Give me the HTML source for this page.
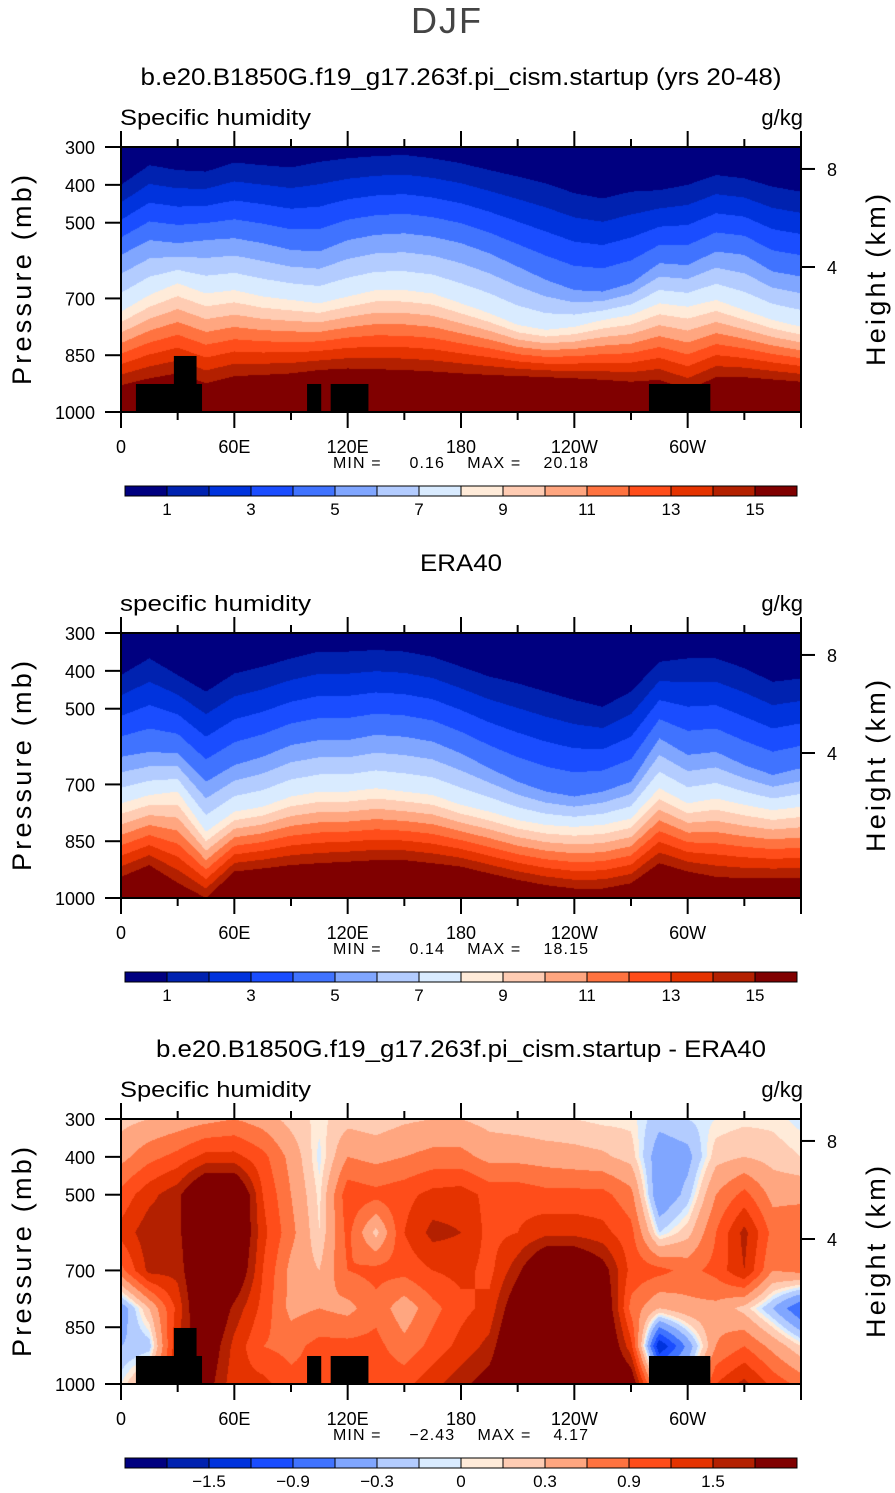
<!DOCTYPE html>
<html><head><meta charset="utf-8">
<style>
html,body{margin:0;padding:0;background:#fff;}
#root{position:relative;width:895px;height:1493px;overflow:hidden;font-family:"Liberation Sans",sans-serif;}
canvas{position:absolute;}
svg{position:absolute;left:0;top:0;}
.pre{white-space:pre;}
</style></head>
<body>
<div id="root">
<canvas id="c1" width="680" height="265" style="left:121px;top:147px"></canvas>
<canvas id="c2" width="680" height="265" style="left:121px;top:633px"></canvas>
<canvas id="c3" width="680" height="265" style="left:121px;top:1119px"></canvas>
<svg id="ov" width="895" height="1493"></svg>
</div>
<script>
// ---- data ----
const lonCols = [0,15,30,45,60,75,90,105,120,135,150,165,180,195,210,225,240,255,270,285,300,315,330,345,360];
// panel 1 (model): pressure (mb) of q=1,5,8,15 g/kg contours at each longitude
const m_p1  = [400,348,361,365,341,348,354,339,330,324,321,330,343,361,378,396,422,436,418,414,400,374,383,405,418];
const m_p5  = [585,546,554,546,541,554,572,576,546,532,528,537,554,581,616,651,678,682,660,607,612,576,585,629,642];
const m_p8  = [735,691,660,687,678,695,704,713,695,678,678,687,713,739,770,783,775,757,744,713,722,704,731,757,775];
const m_p15 = [929,911,898,924,905,902,898,889,885,887,889,893,898,902,905,908,911,915,920,915,942,908,908,914,920];
// panel 2 (ERA40)
const e_p1  = [411,367,411,455,407,389,367,349,349,345,349,363,389,415,433,455,477,495,455,376,367,367,393,429,420];
const e_p5  = [627,614,618,693,649,627,596,583,583,569,574,587,618,657,693,719,732,719,693,578,622,614,649,675,657];
const e_p8  = [750,728,719,825,772,759,732,719,719,710,719,728,754,772,794,807,812,807,790,710,750,737,754,768,759];
const e_p15 = [944,913,960,1000,930,922,913,908,904,900,900,908,917,935,952,966,975,975,961,908,930,944,948,948,948];
const qTop = 0.5, qSfc = 17;
// panel 3 difference grid: rows = pressure levels, cols = lonCols
const diffLevels = [300,400,500,600,700,800,900,1000];
const diffCols = [
 [0.2,0.5,1.0,1.3,0.8,-0.5,-0.3,0.0],
 [0.3,0.8,1.4,1.7,1.6,0.3,-0.2,0.5],
 [0.4,1.0,1.7,1.7,1.6,1.3,1.5,1.5],
 [0.5,1.3,2.5,2.5,2.5,2.5,2.2,2.0],
 [0.6,1.3,2.5,2.5,2.3,1.7,1.4,1.3],
 [0.45,1.0,1.2,1.3,1.2,1.1,0.9,1.3],
 [0.2,0.5,0.6,0.7,0.5,0.5,0.8,1.0],
 [0.05,-0.05,0.05,0.1,0.3,0.6,1.0,1.0],
 [0.2,0.6,1.1,1.0,0.9,0.5,1.0,1.1],
 [0.15,0.5,1.0,0.2,1.0,0.8,1.0,1.1],
 [0.25,0.6,1.1,1.2,1.0,0.4,0.7,1.1],
 [0.3,0.7,1.3,1.6,1.2,0.8,1.0,1.4],
 [0.3,0.7,1.35,1.5,1.3,1.1,1.3,1.7],
 [0.2,0.5,1.1,1.1,1.1,1.3,1.6,2.0],
 [0.15,0.5,1.1,1.2,1.7,2.2,2.5,2.5],
 [0.1,0.45,1.0,1.4,2.5,2.5,2.5,2.5],
 [0.1,0.4,1.0,1.4,2.5,2.5,2.5,2.5],
 [0.05,0.35,1.0,1.3,2.0,2.3,2.5,2.5],
 [0.05,0.2,0.7,1.0,1.1,0.8,1.3,2.2],
 [-0.2,-0.5,-0.6,-0.1,1.0,0.3,-1.5,0.0],
 [-0.1,-0.4,-0.2,0.2,0.8,0.5,-0.5,0.0],
 [0.0,0.2,0.6,0.9,1.0,0.5,0.6,1.2],
 [0.05,0.3,1.0,1.6,1.5,0.2,0.9,1.6],
 [0.05,0.2,0.5,0.8,0.6,-0.3,0.5,1.1],
 [-0.05,0.1,0.5,0.9,0.7,-0.9,0.1,0.8]
];
const qLevels = [1,2,3,4,5,6,7,8,9,10,11,12,13,14,15];
const qTickLabels = ["1","3","5","7","9","11","13","15"];
const dLevels = [-1.8,-1.5,-1.2,-0.9,-0.6,-0.3,-0.1,0,0.1,0.3,0.6,0.9,1.2,1.5,1.8];
const dTickLabels = ["\u22121.5","\u22120.9","\u22120.3","0","0.3","0.9","1.5"];
const dTickIdx = [1,3,5,7,9,11,13];
const qTickIdx = [0,2,4,6,8,10,12,14];
const palette = ["#000080","#0022b0","#0033dd","#1a4dff","#4073ff","#80a6ff","#b3ccff","#d9ebff","#ffebd9","#ffccb3","#ffa680","#ff7340","#ff4d1a","#e53300","#b32000","#800000"];
// topography boxes: [lonStart, lonEnd, topPressure]
const topoBoxes = [[7.9,42.9,926],[28,40,852],[98.5,106,926],[111,131,926],[279.5,312,926]];
const xTickLabels = ["0","60E","120E","180","120W","60W"];
const xTickLons = [0,60,120,180,240,300];
const pTickLabels = ["300","400","500","700","850","1000"];
const pTicks = [300,400,500,700,850,1000];
const hTicks = [[8,358],[4,617]]; // [km, pressure]

// ---- axis functions ----
const X0=121, W=680, H=265;
function xOf(lon){return X0 + lon/360*W;}
function yOf(p,top){return top + (p-300)/700*H;}
function lerpArr(arr, lon){
  const f = lon/15; let i = Math.floor(f); if(i>=arr.length-1) i=arr.length-2;
  const t=f-i; return arr[i]*(1-t)+arr[i+1]*t;
}
function qAt(p,a1,a5,a8,a15){
  if(p<=a1) return qTop + (1-qTop)*(p-300)/Math.max(a1-300,1);
  if(p<=a5) return 1 + 4*(p-a1)/(a5-a1);
  if(p<=a8) return 5 + 3*(p-a5)/(a8-a5);
  if(p<=a15) return 8 + 7*(p-a8)/(a15-a8);
  return 15 + (qSfc-15)*(p-a15)/Math.max(1000-a15,1);
}
function idxOf(v,levels){let k=0;while(k<levels.length && v>=levels[k])k++;return k;}
function hex(c){return [parseInt(c.substr(1,2),16),parseInt(c.substr(3,2),16),parseInt(c.substr(5,2),16)];}
const pal = palette.map(hex);

function drawHumidity(id,A1,A5,A8,A15){
  const ctx=document.getElementById(id).getContext('2d');
  const img=ctx.createImageData(W,H);
  for(let px=0;px<W;px++){
    const lon=(px+0.5)/W*360;
    const a1=lerpArr(A1,lon),a5=lerpArr(A5,lon),a8=lerpArr(A8,lon),a15=lerpArr(A15,lon);
    for(let py=0;py<H;py++){
      const p=300+(py+0.5)/H*700;
      const c=pal[idxOf(qAt(p,a1,a5,a8,a15),qLevels)];
      const o=(py*W+px)*4; img.data[o]=c[0];img.data[o+1]=c[1];img.data[o+2]=c[2];img.data[o+3]=255;
    }
  }
  ctx.putImageData(img,0,0);
}
function drawDiff(id){
  const ctx=document.getElementById(id).getContext('2d');
  const img=ctx.createImageData(W,H);
  for(let px=0;px<W;px++){
    const lon=(px+0.5)/W*360; const f=lon/15; let i=Math.min(Math.floor(f),23); const t=f-i;
    for(let py=0;py<H;py++){
      const p=300+(py+0.5)/H*700; const g=(p-300)/100; let j=Math.min(Math.floor(g),6); const s=g-j;
      const v=(diffCols[i][j]*(1-t)+diffCols[i+1][j]*t)*(1-s)+(diffCols[i][j+1]*(1-t)+diffCols[i+1][j+1]*t)*s;
      const c=pal[idxOf(v,dLevels)];
      const o=(py*W+px)*4; img.data[o]=c[0];img.data[o+1]=c[1];img.data[o+2]=c[2];img.data[o+3]=255;
    }
  }
  ctx.putImageData(img,0,0);
}
drawHumidity('c1',m_p1,m_p5,m_p8,m_p15);
drawHumidity('c2',e_p1,e_p5,e_p8,e_p15);
drawDiff('c3');

// ---- overlay ----
const NS="http://www.w3.org/2000/svg";
const svg=document.getElementById('ov');
function el(tag,attrs,parent,text){
  const e=document.createElementNS(NS,tag);
  for(const k in attrs) e.setAttribute(k,attrs[k]);
  if(text!==undefined) e.textContent=text;
  (parent||svg).appendChild(e); return e;
}
let t=el('text',{x:447,y:33,'text-anchor':'middle','font-size':36,fill:'#444','font-weight':'normal','letter-spacing':'2'},svg,'DJF');



const panels=[
 {top:147,title:'b.e20.B1850G.f19_g17.263f.pi_cism.startup (yrs 20-48)',tl:641,left:'Specific humidity',min:'0.16',max:'20.18',diff:false,topo:true,name:'model-panel'},
 {top:633,title:'ERA40',tl:82,left:'specific humidity',min:'0.14',max:'18.15',diff:false,topo:false,name:'era40-panel'},
 {top:1119,title:'b.e20.B1850G.f19_g17.263f.pi_cism.startup - ERA40',tl:610,left:'Specific humidity',min:'\u22122.43',max:'4.17',diff:true,topo:true,name:'difference-panel'}
];
panels.forEach(P=>{
  const g=el('g',{});
  
  
  const T=P.top;
  let e=el('text',{x:461,y:T-62,'text-anchor':'middle','font-size':24,fill:'#000','textLength':P.tl,'lengthAdjust':'spacingAndGlyphs'},g,P.title);
  
  
  e=el('text',{x:120,y:T-22,'font-size':22,fill:'#000','textLength':191,'lengthAdjust':'spacingAndGlyphs'},g,P.left);
  
  
  e=el('text',{x:803,y:T-22,'text-anchor':'end','font-size':22,fill:'#000'},g,'g/kg');
  
  
  if(P.topo){
    topoBoxes.forEach(b=>{
      const r=el('rect',{x:xOf(b[0]),y:yOf(b[2],T),width:xOf(b[1])-xOf(b[0]),height:yOf(1000,T)-yOf(b[2],T),fill:'#000'},g);
      
      
    });
  }
  e=el('rect',{x:X0,y:T,width:W,height:H,fill:'none',stroke:'#000','stroke-width':2},g);
  
  
  for(let lon=0;lon<=360;lon+=30){
    const maj=lon%60===0, x=xOf(lon);
    el('line',{x1:x,x2:x,y1:T,y2:T-(maj?16:8),stroke:'#000','stroke-width':2},g);
    el('line',{x1:x,x2:x,y1:T+H,y2:T+H+(maj?16:8),stroke:'#000','stroke-width':2},g);
  }
  xTickLons.forEach((lon,i)=>{
    const e2=el('text',{x:xOf(lon),y:T+H+41,'text-anchor':'middle','font-size':18,fill:'#000'},g,xTickLabels[i]);
    
    
  });
  pTicks.forEach((p,i)=>{
    const y=yOf(p,T);
    el('line',{x1:X0-16,x2:X0,y1:y,y2:y,stroke:'#000','stroke-width':2},g);
    const e2=el('text',{x:95,y:y+7,'text-anchor':'end','font-size':18,fill:'#000'},g,pTickLabels[i]);
    
    
  });
  hTicks.forEach(h=>{
    const y=yOf(h[1],T);
    el('line',{x1:X0+W,x2:X0+W+14,y1:y,y2:y,stroke:'#000','stroke-width':2},g);
    const e2=el('text',{x:827,y:y+7,'font-size':18,fill:'#000'},g,String(h[0]));
    
    
  });
  e=el('text',{x:0,y:0,'text-anchor':'middle','font-size':27,fill:'#000',transform:`translate(31,${T+133}) rotate(-90)`,'textLength':210,'lengthAdjust':'spacing'},g,'Pressure (mb)');
  
  
  e=el('text',{x:0,y:0,'text-anchor':'middle','font-size':27,fill:'#000',transform:`translate(885,${T+133}) rotate(-90)`,'textLength':172,'lengthAdjust':'spacing'},g,'Height (km)');
  
  
  e=el('text',{x:333,y:T+321,'font-size':16,fill:'#000','class':'pre','textLength':255,'lengthAdjust':'spacing'},g,'MIN =     '+P.min+'    MAX =    '+P.max);
  
  
  // colorbar
  const cb=el('g',{},g);
  
  
  const cy=T+339, bw=672/16;
  palette.forEach((c,k)=>{
    const r=el('rect',{x:125+k*bw,y:cy,width:bw,height:10,fill:c,stroke:'#000','stroke-width':1},cb);
    
    
  });
  const labs=P.diff?dTickLabels:qTickLabels, idx=P.diff?dTickIdx:qTickIdx;
  labs.forEach((s,i)=>{
    const e2=el('text',{x:125+(idx[i]+1)*bw,y:cy+29,'text-anchor':'middle','font-size':17,fill:'#000'},cb,s);
    
    
  });
});
</script>
</body></html>
